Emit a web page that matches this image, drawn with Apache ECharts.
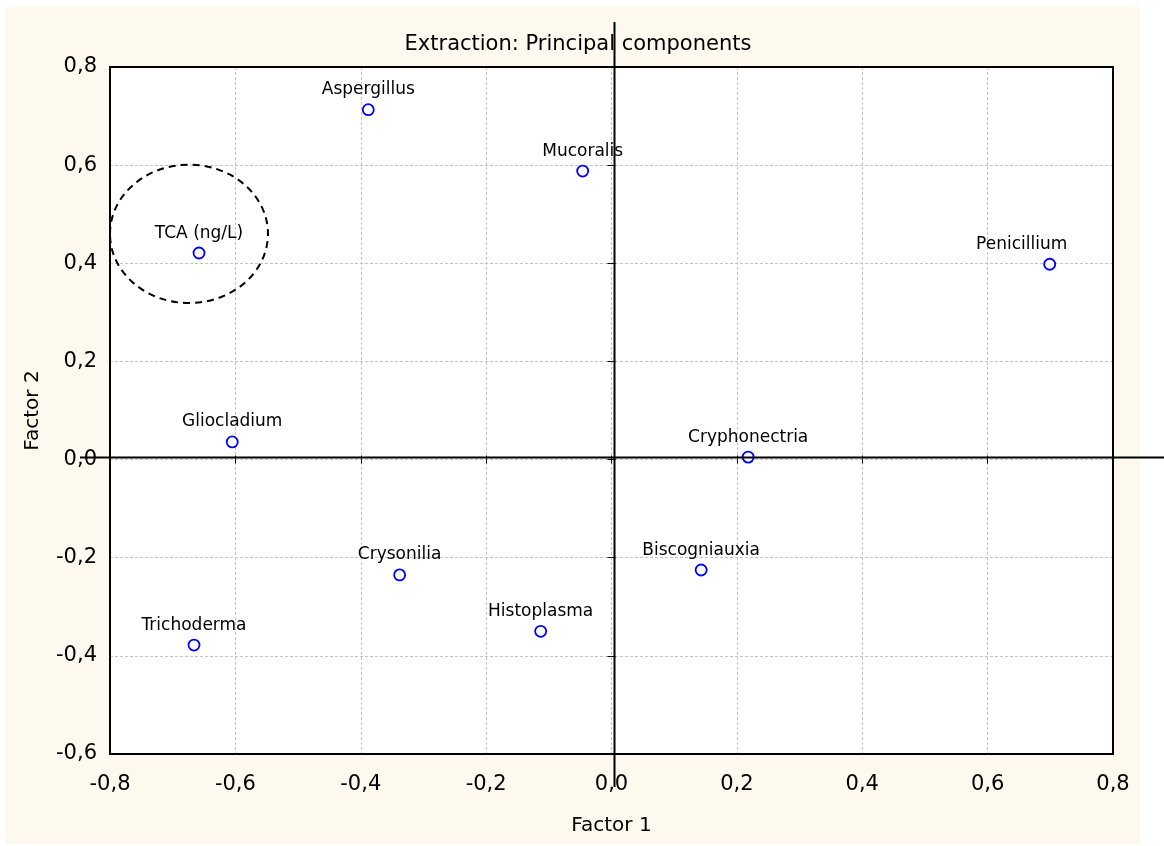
<!DOCTYPE html>
<html>
<head>
<meta charset="utf-8">
<script src="https://cdn.jsdelivr.net/npm/echarts@6/dist/echarts.min.js"></script>
<style>
html,body{margin:0;padding:0;background:#ffffff;}
#bg{position:absolute;left:5px;top:7px;width:1135px;height:837px;background:#fdf9ee;}
#chart{position:absolute;left:0;top:0;width:1164px;height:846px;}
</style>
</head>
<body>
<div id="bg"></div>
<div id="chart"></div>
<script>
// ---- data ----
const names = ['Aspergillus','Mucoralis','TCA (ng/L)','Penicillium','Gliocladium','Cryphonectria','Crysonilia','Biscogniauxia','Histoplasma','Trichoderma'];
const factor1 = [-0.388,-0.046,-0.658,0.699,-0.605,0.218,-0.338,0.143,-0.113,-0.666];
const factor2 = [0.713,0.588,0.421,0.398,0.036,0.005,-0.235,-0.225,-0.350,-0.378];
const xTicks = [-0.8,-0.6,-0.4,-0.2,0.0,0.2,0.4,0.6,0.8];
const yTicks = [-0.6,-0.4,-0.2,0.0,0.2,0.4,0.6,0.8];
// dashed annotation around TCA: centre and radii in data units
const markCentre = [-0.674, 0.460];
const markRadius = [0.126, 0.141];

const FONT = '"DejaVu Sans", Verdana, sans-serif';
const fmt = v => Math.abs(v) < 1e-9 ? '0,0' : v.toFixed(1).replace('.', ',');

const chart = echarts.init(document.getElementById('chart'), null, {renderer:'canvas'});
const pts = names.map((n,i) => {
  const item = {name:n, value:[factor1[i], factor2[i]]};
  if (n === 'Penicillium') item.label = {offset:[-28,0]};
  return item;
});

const tickStyle = {show: true, inside: true, length: 4, lineStyle: {color: '#000', width: 1}};
const gridLine = {show: true, lineStyle: {color: '#c4c4c4', type: [3,2], width: 1}};

chart.setOption({
  backgroundColor: 'transparent',
  animation: false,
  title: {
    text: 'Extraction: Principal components',
    left: 573, top: 29, textAlign: 'center',
    textStyle: {fontFamily: FONT, fontSize: 21, fontWeight: 'normal', color: '#000'}
  },
  grid: {
    left: 110, top: 67, right: 51, bottom: 92,
    show: true, backgroundColor: '#ffffff', borderWidth: 0
  },
  xAxis: [{
    type: 'value', min: xTicks[0], max: xTicks[xTicks.length-1], interval: 0.2, position: 'bottom',
    name: 'Factor 1', nameLocation: 'middle', nameGap: 62,
    nameTextStyle: {fontFamily: FONT, fontSize: 20, color: '#000'},
    axisLine: {show: false},
    axisTick: tickStyle,
    axisLabel: {fontFamily: FONT, fontSize: 21, color: '#000', margin: 20, formatter: fmt, showMinLabel: true, showMaxLabel: true},
    splitLine: gridLine
  }, {
    type: 'value', min: xTicks[0], max: xTicks[xTicks.length-1], interval: 0.2, position: 'top',
    axisLine: {show: false}, axisTick: tickStyle, axisLabel: {show: false}, splitLine: {show: false}
  }],
  yAxis: [{
    type: 'value', min: yTicks[0], max: yTicks[yTicks.length-1], interval: 0.2, position: 'left',
    name: 'Factor 2', nameLocation: 'middle', nameGap: 67,
    nameTextStyle: {fontFamily: FONT, fontSize: 20, color: '#000'},
    axisLine: {show: false},
    axisTick: tickStyle,
    axisLabel: {fontFamily: FONT, fontSize: 21, color: '#000', margin: 13, formatter: fmt, showMinLabel: true, showMaxLabel: true},
    splitLine: gridLine
  }, {
    type: 'value', min: yTicks[0], max: yTicks[yTicks.length-1], interval: 0.2, position: 'right',
    axisLine: {show: false}, axisTick: tickStyle, axisLabel: {show: false}, splitLine: {show: false}
  }],
  series: [{
    type: 'scatter',
    data: pts,
    symbol: 'circle',
    symbolSize: 11,
    itemStyle: {color: '#ffffff', borderColor: '#0000ff', borderWidth: 1.8, opacity: 1},
    label: {
      show: true, position: 'top', distance: 5,
      formatter: p => p.name,
      fontFamily: FONT, fontSize: 17, color: '#000'
    },
    emphasis: {disabled: true},
    z: 5
  }]
});

function drawOverlay(){
  const o = chart.convertToPixel({gridIndex:0}, [0, 0]);
  const tl = chart.convertToPixel({gridIndex:0}, [xTicks[0], yTicks[yTicks.length-1]]);
  const br = chart.convertToPixel({gridIndex:0}, [xTicks[xTicks.length-1], yTicks[0]]);
  const c = chart.convertToPixel({gridIndex:0}, markCentre);
  const e = chart.convertToPixel({gridIndex:0}, [markCentre[0]+markRadius[0], markCentre[1]+markRadius[1]]);
  const ox = o[0] + 3, oy = o[1] - 2; // zero lines sit slightly off the grid lines in the original
  chart.setOption({
    graphic: [
      {type:'rect', z:100, shape:{x:tl[0], y:tl[1], width:br[0]-tl[0], height:br[1]-tl[1]},
       style:{fill:'none', stroke:'#000', lineWidth:2}},
      {type:'line', z:101, shape:{x1:ox, y1:22, x2:ox, y2:787}, style:{stroke:'#000', lineWidth:2}},
      {type:'line', z:101, shape:{x1:80, y1:oy, x2:1164, y2:oy}, style:{stroke:'#000', lineWidth:2}},
      {type:'ellipse', z:100, shape:{cx:c[0], cy:c[1], rx:Math.abs(e[0]-c[0]), ry:Math.abs(e[1]-c[1])},
       style:{fill:'none', stroke:'#000', lineWidth:2, lineDash:[7,5]}}
    ]
  });
}
drawOverlay();
</script>
</body>
</html>
